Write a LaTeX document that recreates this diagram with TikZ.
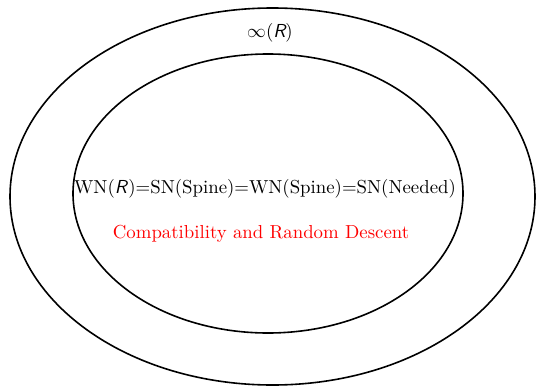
\documentclass[tikz,border=0pt]{standalone}
\usepackage{amsmath,amssymb}
\usepackage{tikz}
\usetikzlibrary{calc}

\begin{document}
\begin{tikzpicture}[x=0.5pt, y=-0.5pt, line width=0.8pt,
    every node/.style={scale=0.94}]
    % bounding box
    \useasboundingbox (0, 0) rectangle (536, 386);

    % outer ellipse
    \draw (272.5, 196.5) ellipse [x radius=262.5, y radius=188.5];
    \node (inf) at (270, 33) {$\infty(\textsf{\itshape R})$};

    % inner ellipse
    \draw (268, 193.5) ellipse [x radius=195, y radius=139.5];
    \node (eq) at (265, 189) {WN(\textsf{\itshape R})=SN(Spine)=WN(Spine)=SN(Needed)};
    \node[text=red] (cr) at (261, 234) {Compatibility and Random Descent};
\end{tikzpicture}
\end{document}
